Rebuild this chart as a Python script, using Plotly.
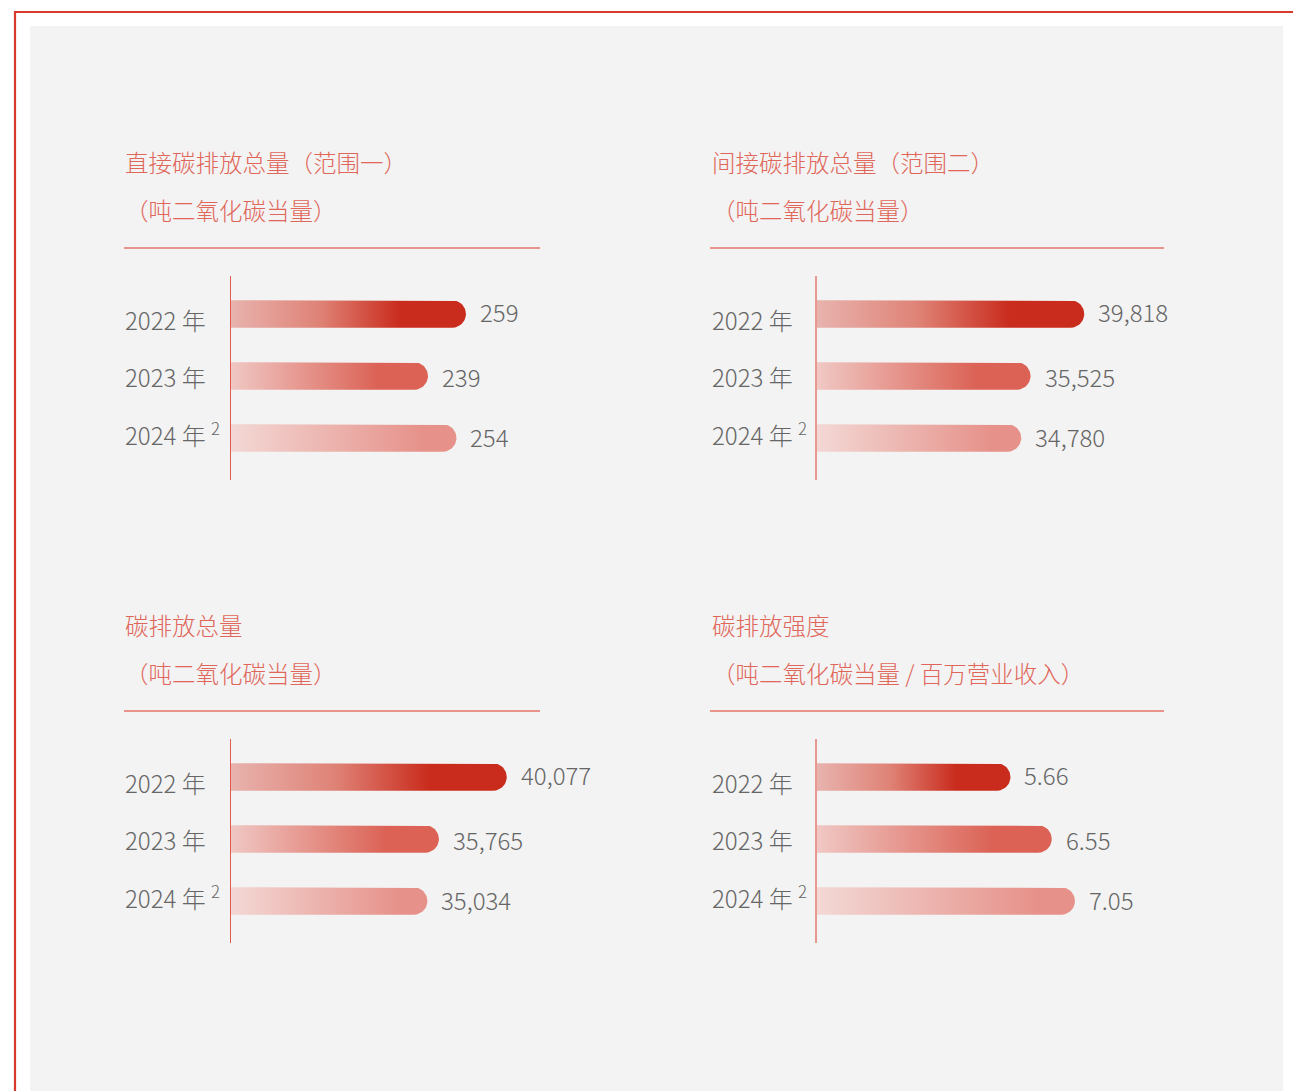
import numpy as np
import plotly.graph_objects as go

# ---- data -------------------------------------------------------------
YEARS = ["2022 年", "2023 年", "2024 年"]
YEAR_NOTES = ["", "", "2"]

SCOPE1 = [259, 239, 254]            # 直接碳排放总量（范围一）
SCOPE2 = [39818, 35525, 34780]      # 间接碳排放总量（范围二）
TOTAL = [40077, 35765, 35034]       # 碳排放总量
INTENSITY = [5.66, 6.55, 7.05]      # 碳排放强度

TITLES = [
    ("直接碳排放总量（范围一）", "（吨二氧化碳当量）"),
    ("间接碳排放总量（范围二）", "（吨二氧化碳当量）"),
    ("碳排放总量", "（吨二氧化碳当量）"),
    ("碳排放强度", "（吨二氧化碳当量 / 百万营业收入）"),
]

# ---- page geometry (pixels) ------------------------------------------
W, H = 1293, 1091
FONT = "Noto Sans CJK SC"
TITLE_COLOR = "#df6659"
TEXT_GRAY = "#666666"

# bar colour ramps, one per year row
RAMPS = [
    [[0, "#e8b3ae"], [0.38, "#df8276"], [0.72, "#c92c1d"], [1, "#c92b1c"]],
    [[0, "#f0c8c4"], [0.75, "#db6255"], [1, "#db6255"]],
    [[0, "#f3d8d5"], [0.85, "#e6928a"], [1, "#e6928a"]],
]

PANELS = [
    dict(values=SCOPE1, fmt="{:,}", label_x=123, ax_x0=230.5, ax_x1=540,
         y_top=276, y_bot=480, xrange=[135, 298], line="#e05a4e", lw=1.3,
         title_y=(162, 210), rule=(124, 540, 248)),
    dict(values=SCOPE2, fmt="{:,}", label_x=710, ax_x0=817, ax_x1=1164,
         y_top=276, y_bot=480, xrange=[18460, 46190], line="#e99890", lw=2,
         title_y=(162, 210), rule=(710, 1164, 248)),
    dict(values=TOTAL, fmt="{:,}", label_x=123, ax_x0=230.5, ax_x1=540,
         y_top=739, y_bot=943, xrange=[22520, 42190], line="#e05a4e", lw=1.3,
         title_y=(625, 673), rule=(124, 540, 711)),
    dict(values=INTENSITY, fmt="{:.2f}", label_x=710, ax_x0=817, ax_x1=1164,
         y_top=739, y_bot=943, xrange=[1.49, 8.97], line="#e99890", lw=2,
         title_y=(625, 673), rule=(710, 1164, 711)),
]

ROW_PX = 62          # distance between bar centres
FIRST_ROW_PX = 38    # first bar centre below the top of the axis line
BAR_PX = 27.5        # bar thickness
LABEL_YSHIFT = [-5, 0, 4]
VALUE_YSHIFT = [3, 0, 2]


def px_x(p):
    return p / W


def px_y(p):
    return 1 - p / H


def bar_outline(value, row, x0, units_per_px, half_h):
    """Bar from the axis start to `value` with a semicircular right end."""
    rx = (BAR_PX / 2) * units_per_px
    cx = value - rx
    t = np.linspace(-np.pi / 2, np.pi / 2, 31)
    xs = np.concatenate([[x0], cx + rx * np.cos(t), [x0, x0]])
    ys = np.concatenate([[row - half_h], row + half_h * np.sin(t),
                         [row + half_h, row - half_h]])
    return xs, ys


fig = go.Figure()
annotations = []
shapes = []

# page frame and grey card
shapes.append(dict(type="rect", xref="paper", yref="paper",
                   x0=px_x(30), x1=px_x(1283), y0=0, y1=px_y(26),
                   fillcolor="#f3f3f3", line_width=0, layer="below"))
shapes.append(dict(type="line", xref="paper", yref="paper",
                   x0=px_x(14), x1=1, y0=px_y(12), y1=px_y(12),
                   line=dict(color="#d8392b", width=2.2), layer="below"))
shapes.append(dict(type="line", xref="paper", yref="paper",
                   x0=px_x(15), x1=px_x(15), y0=0, y1=px_y(11),
                   line=dict(color="#d8392b", width=2.2), layer="below"))

layout_axes = {}
span_rows = (PANELS[0]["y_bot"] - PANELS[0]["y_top"]) / ROW_PX
y_top_val = -FIRST_ROW_PX / ROW_PX
half_h = (BAR_PX / 2) / ROW_PX

for k, p in enumerate(PANELS, start=1):
    xa = "x" if k == 1 else f"x{k}"
    ya = "y" if k == 1 else f"y{k}"
    x0, x1 = p["xrange"]
    units_per_px = (x1 - x0) / (p["ax_x1"] - p["ax_x0"])

    for i, v in enumerate(p["values"]):
        xs, ys = bar_outline(v, i, x0, units_per_px, half_h)
        fig.add_trace(go.Scatter(
            x=xs, y=ys, xaxis=xa, yaxis=ya, mode="lines", fill="toself",
            line=dict(width=0, color="rgba(0,0,0,0)"),
            fillgradient=dict(type="horizontal", colorscale=RAMPS[i]),
            hoverinfo="skip", showlegend=False,
        ))
        # value label
        annotations.append(dict(
            x=v, y=i, xref=xa, yref=ya, text=p["fmt"].format(v),
            showarrow=False, xanchor="left", yanchor="middle",
            xshift=12, yshift=VALUE_YSHIFT[i],
            font=dict(family=FONT, size=24, color=TEXT_GRAY, weight=300),
        ))
        # year label
        note = f" <sup>{YEAR_NOTES[i]}</sup>" if YEAR_NOTES[i] else ""
        annotations.append(dict(
            x=px_x(p["label_x"]), y=i, xref="paper", yref=ya,
            text=YEARS[i] + note, showarrow=False,
            xanchor="left", yanchor="middle", yshift=LABEL_YSHIFT[i],
            font=dict(family=FONT, size=24, color=TEXT_GRAY, weight=300),
        ))

    # panel titles
    t1, t2 = TITLES[k - 1]
    for txt, ty in zip((t1, t2), p["title_y"]):
        annotations.append(dict(
            x=px_x(p["label_x"]), y=px_y(ty), xref="paper", yref="paper",
            text=txt, showarrow=False, xanchor="left", yanchor="middle",
            font=dict(family=FONT, size=23.5, color=TITLE_COLOR, weight=300),
        ))
    rx0, rx1, ry = p["rule"]
    shapes.append(dict(type="line", xref="paper", yref="paper",
                       x0=px_x(rx0), x1=px_x(rx1), y0=px_y(ry), y1=px_y(ry),
                       line=dict(color="#e6766a", width=1.4)))

    key = "" if k == 1 else str(k)
    layout_axes[f"xaxis{key}"] = dict(
        domain=[px_x(p["ax_x0"]), px_x(p["ax_x1"])], range=[x0, x1],
        anchor=ya, showgrid=False, zeroline=False, showticklabels=False,
        showline=False, ticks="", fixedrange=True,
    )
    layout_axes[f"yaxis{key}"] = dict(
        domain=[px_y(p["y_bot"]), px_y(p["y_top"])],
        range=[y_top_val + span_rows, y_top_val],
        anchor=xa, showgrid=False, zeroline=False, showticklabels=False,
        showline=True, linecolor=p["line"], linewidth=p["lw"], ticks="",
        fixedrange=True,
    )

fig.update_layout(
    width=W, height=H, margin=dict(l=0, r=0, t=0, b=0),
    paper_bgcolor="white", plot_bgcolor="rgba(0,0,0,0)",
    font=dict(family=FONT), showlegend=False,
    annotations=annotations, shapes=shapes, **layout_axes,
)

fig.write_html("out.html")
